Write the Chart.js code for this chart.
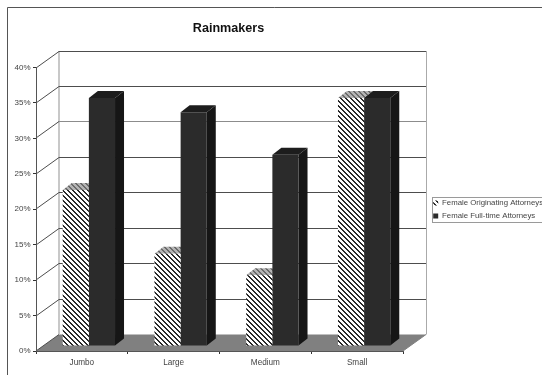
<!DOCTYPE html>
<html><head><meta charset="utf-8">
<style>html,body{margin:0;padding:0;background:#fff}#c{display:block}</style>
<script src="https://cdn.jsdelivr.net/npm/chart.js@4"></script></head>
<body><div style="width:542px;height:375px"><canvas id="c" width="542" height="375"></canvas></div>
<script>
const categories = ["Jumbo", "Large", "Medium", "Small"];
const originating = [22, 13, 10, 35];
const fullTime = [35, 33, 27, 35];
const seriesNames = ["Female Originating Attorneys", "Female Full-time Attorneys"];
const chartTitle = "Rainmakers";
const yMax = 40, yStep = 5;

function hatch(bg, fg) {
  const s = 5, p = document.createElement('canvas');
  p.width = s; p.height = s;
  const g = p.getContext('2d');
  g.fillStyle = bg; g.fillRect(0, 0, s, s);
  g.fillStyle = fg;
  for (let i = 0; i < s; i++) { g.fillRect(i, i, 1, 1); g.fillRect((i + 1) % s, i, 1, 1); }
  return g.createPattern(p, 'repeat');
}
const DX = 23, DY = 16.5;       // wall depth
const BX = 7, BY = 5;           // bar offset from the front edge
const SX = 9, SY = 7;           // bar depth

const walls = {
  id: 'walls',
  afterLayout(chart) {
    const t = chart.titleBlock;
    const th = t.height;
    t.left = 0; t.right = 457; t.top = 21; t.bottom = t.top + th;
    const l = chart.legend;
    const w = l.width, h = l.height;
    l.left = 428; l.right = 428 + w; l.top = 194; l.bottom = 194 + h;
    l.adjustHitBoxes();
  },
  beforeDraw(chart) {
    const g = chart.ctx, a = chart.chartArea, y = chart.scales.y;
    g.save();
    g.fillStyle = '#fff'; g.fillRect(0, 0, chart.width, chart.height);
    // outer frame
    g.strokeStyle = '#555'; g.lineWidth = 1;
    g.beginPath(); g.moveTo(7.5, 375); g.lineTo(7.5, 7.5); g.lineTo(542, 7.5); g.stroke();
    // floor
    g.fillStyle = '#808080';
    g.beginPath();
    g.moveTo(a.left, a.bottom); g.lineTo(a.left + DX, a.bottom - DY);
    g.lineTo(a.right + DX, a.bottom - DY); g.lineTo(a.right, a.bottom); g.closePath(); g.fill();
    // wall edges
    g.strokeStyle = '#c8c8c8'; g.lineWidth = 2;
    g.beginPath(); g.moveTo(a.left + DX, a.top - DY); g.lineTo(a.left + DX, a.bottom - DY); g.stroke();
    g.strokeStyle = '#aaa'; g.lineWidth = 1;
    g.beginPath(); g.moveTo(a.right + DX + .5, a.top - DY); g.lineTo(a.right + DX + .5, a.bottom - DY); g.stroke();
    // gridlines on the walls
    g.strokeStyle = '#4d4d4d';
    for (let v = 0; v <= yMax; v += yStep) {
      const p = Math.round(y.getPixelForValue(v));
      g.beginPath(); g.moveTo(a.left, p); g.lineTo(a.left + DX, p - DY); g.stroke();
      if (v > 0) {
        const q = Math.floor(p - DY) + .5;
        g.strokeStyle = v === 30 ? '#8c8c8c' : '#4d4d4d';
        g.beginPath(); g.moveTo(a.left + DX, q); g.lineTo(a.right + DX, q); g.stroke();
        g.strokeStyle = '#4d4d4d';
      }
    }
    g.strokeStyle = '#808080';
    g.beginPath(); g.moveTo(a.right, a.bottom); g.lineTo(a.right + DX, a.bottom - DY); g.stroke();
    g.restore();
  },
  beforeDatasetsDraw(chart) {
    const g = chart.ctx;
    g.save();
    g.translate(BX, -BY);
    chart.data.datasets.forEach((ds, i) => {
      chart.getDatasetMeta(i).data.forEach(b => {
        const l = b.x - b.width / 2, r = b.x + b.width / 2, t = b.y, bot = b.base;
        g.fillStyle = ds.sideColor;
        g.beginPath(); g.moveTo(r, t); g.lineTo(r + SX, t - SY); g.lineTo(r + SX, bot - SY); g.lineTo(r, bot); g.closePath(); g.fill();
        g.fillStyle = ds.topColor;
        g.beginPath(); g.moveTo(l, t); g.lineTo(l + SX, t - SY); g.lineTo(r + SX, t - SY); g.lineTo(r, t); g.closePath(); g.fill();
      });
    });
  },
  afterDatasetsDraw(chart) { chart.ctx.restore(); },
  afterDraw(chart) {
    const g = chart.ctx;
    g.save();
    g.strokeStyle = '#9a9a9a'; g.lineWidth = 1;
    g.strokeRect(432.5, 197.5, 120, 25);
    g.restore();
  }
};

new Chart(document.getElementById('c'), {
  type: 'bar',
  plugins: [walls],
  data: {
    labels: categories,
    datasets: [
      { label: seriesNames[0], data: originating, backgroundColor: hatch('#fff', '#2a2a2a'),
        topColor: hatch('#b4b4b4', '#6a6a6a'), sideColor: '#555', borderWidth: 0 },
      { label: seriesNames[1], data: fullTime, backgroundColor: '#2b2b2b',
        topColor: '#1d1d1d', sideColor: '#161616', borderWidth: 0 }
    ]
  },
  options: {
    responsive: false, animation: false, events: [],
    layout: { padding: { left: 0, right: 139, top: 68 - 15.6, bottom: 0 } },
    datasets: { bar: { categoryPercentage: 0.57, barPercentage: 1 } },
    plugins: {
      tooltip: { enabled: false },
      title: { display: true, text: chartTitle, color: '#111', padding: 0,
               font: { family: 'Liberation Sans', size: 12.6, weight: 'bold' } },
      legend: {
        display: true, position: 'chartArea', align: 'start',
        labels: { boxWidth: 5, boxHeight: 5, padding: 5.2, color: '#444',
                  font: { family: 'Liberation Sans', size: 7.8 } }
      }
    },
    scales: {
      x: {
        afterFit(s) { s.height = 24; },
        grid: { drawOnChartArea: false, tickLength: 3, color: '#333' },
        border: { color: '#555' },
        ticks: { color: '#444', padding: 4, maxRotation: 0, font: { family: 'Liberation Sans', size: 8.2 } }
      },
      y: {
        min: 0, max: yMax,
        afterFit(s) { s.width = 36; },
        grid: { drawOnChartArea: false, tickLength: 3, color: '#333' },
        border: { color: '#555' },
        ticks: { stepSize: yStep, color: '#444', padding: 2.5, font: { family: 'Liberation Sans', size: 8 },
                 callback: v => v + '%' }
      }
    }
  }
});
</script></body></html>
